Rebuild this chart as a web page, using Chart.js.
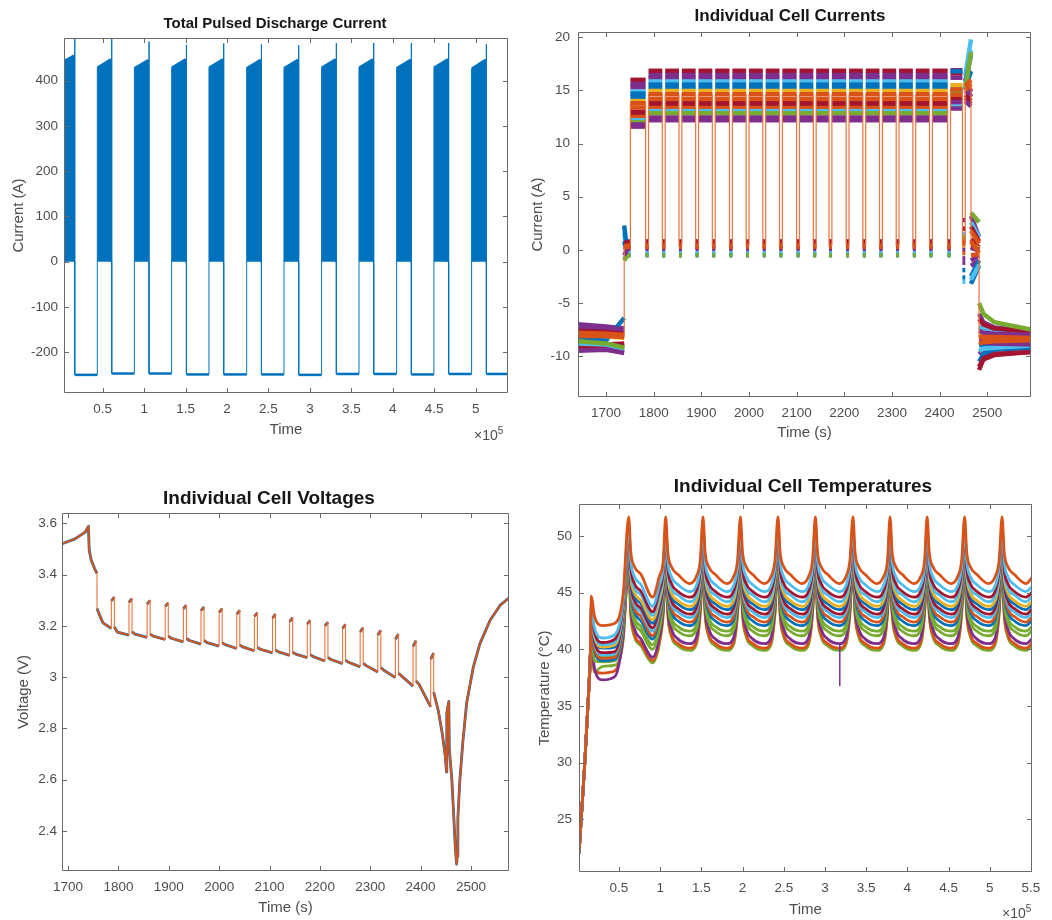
<!DOCTYPE html>
<html>
<head>
<meta charset="utf-8">
<title>Pulsed discharge test</title>
<script src="https://cdn.jsdelivr.net/npm/chart.js@4.4.0/dist/chart.umd.min.js"></script>
<style>
  html, body { margin: 0; padding: 0; background: #fff; }
  #page { position: relative; width: 1052px; height: 920px; overflow: hidden;
          font-family: 'Liberation Sans', Arial, Helvetica, sans-serif; }
  canvas { position: absolute; }
  .ttl { position: absolute; font-weight: bold; color: #161616; white-space: nowrap;
         transform: translate(-50%, -50%); line-height: 1; }
  .exp { position: absolute; color: #4d4d4d; font-size: 14px; white-space: nowrap; line-height: 1; }
  .exp span { position: relative; top: -6px; font-size: 10px; }
</style>
</head>
<body>
<div id="page">
  <canvas id="c1" width="526" height="445" style="left:0;top:0"></canvas>
  <canvas id="c2" width="532" height="445" style="left:520px;top:0"></canvas>
  <canvas id="c3" width="526" height="450" style="left:0;top:470px"></canvas>
  <canvas id="c4" width="532" height="450" style="left:520px;top:470px"></canvas>

  <div class="ttl" style="left:275px;top:22px;font-size:15px">Total Pulsed Discharge Current</div>
  <div class="ttl" style="left:790px;top:15px;font-size:17px">Individual Cell Currents</div>
  <div class="ttl" style="left:269px;top:497px;font-size:19px">Individual Cell Voltages</div>
  <div class="ttl" style="left:803px;top:485px;font-size:19px">Individual Cell Temperatures</div>
  <div class="exp" style="left:474px;top:428px">&times;10<span>5</span></div>
  <div class="exp" style="left:1002px;top:906px">&times;10<span>5</span></div>
</div>

<script>
/* ---------- panel 1: total pulsed discharge current (time in 1e5 units) ---------- */
var xTicks1 = [0.5, 1, 1.5, 2, 2.5, 3, 3.5, 4, 4.5, 5];
var yTicks1 = [-200, -100, 0, 100, 200, 300, 400];
var blockStart1 = [0.013, 0.435, 0.882, 1.332, 1.782, 2.237, 2.687, 3.141, 3.592, 4.046, 4.496, 4.951];
var blockEnd1   = [0.154, 0.600, 1.050, 1.501, 1.951, 2.406, 2.856, 3.310, 3.761, 4.215, 4.665, 5.120];
var spikeTime1  = [0.163, 0.609, 1.059, 1.510, 1.960, 2.415, 2.865, 3.319, 3.770, 4.224, 4.674, 5.129];
var startTop1   = [441, 428, 427, 428, 428, 427, 427, 428, 428, 427, 428, 426];
var endTop1     = [455, 447, 445, 447, 447, 446, 446, 447, 447, 446, 447, 446];
var spikeTop1   = [520, 520, 486, 479, 482, 480, 478, 483, 483, 483, 483, 480];
var charge1     = [-250, -247, -247, -249, -249, -249, -250, -248, -248, -249, -248, -248];
var traceEnd1 = 5.39;

/* ---------- panel 2: individual cell currents ---------- */
var xTicks2 = [1700, 1800, 1900, 2000, 2100, 2200, 2300, 2400, 2500];
var yTicks2 = [-10, -5, 0, 5, 10, 15, 20];
var preT2 = [1641, 1700, 1738];
var kickT2 = 1745;
var firstOn2 = 1751;
var restStart2 = [1783, 1818, 1853, 1888, 1923, 1959, 1994, 2029, 2064, 2100, 2135, 2168, 2204, 2239, 2274, 2309, 2344, 2379, 2417, 2448, 2466];
var restEnd2   = [1789, 1824, 1859, 1894, 1929, 1965, 2000, 2035, 2070, 2106, 2141, 2174, 2210, 2245, 2280, 2315, 2350, 2385, 2423, 2454];
var dropT2 = 2483;
var postT2 = [2483, 2492, 2515, 2592];
// cells in plotting order (the last one ends up on top, like the original figure)
var colors2 = ['#A2142F', '#7E2F8E', '#7E2F8E', '#4DBEEE', '#0072BD', '#0072BD', '#EDB120', '#A2142F',
               '#A2142F', '#D95319', '#4DBEEE', '#77AC30', '#7E2F8E', '#7E2F8E', '#D95319', '#D95319'];
var pre0  = [-8.9, -7.0, -9.3, -8.7, -8.5, -8.2, -8.0, -7.5, -9.1, -7.9, -8.8, -8.6, -7.2, -9.5, -8.1, -7.8];
var pre1  = [-8.9, -7.2, -9.3, -8.8, -8.5, -8.1, -8.1, -7.6, -9.0, -8.0, -8.9, -8.8, -7.3, -9.4, -8.1, -7.9];
var pre2  = [-8.8, -7.4, -9.5, -9.2, -6.4, -7.9, -8.3, -7.8, -8.9, -8.2, -9.3, -9.2, -7.5, -9.7, -8.2, -8.0];
var kick2 = [0.6, 0.4, 0.3, 1.6, 2.3, 0.8, 0.2, 0.7, 0.5, 0.3, -0.9, -1.0, 0.0, -0.5, 0.2, 0.4];
var rest2 = [0.8, 0.5, 0.3, -0.3, -0.5, -0.4, 0.1, 0.7, 0.4, 0.2, -0.3, -0.5, 0.2, 0.1, 0.3, 0.4];
var first2 = [16.0, 15.6, 15.3, 14.9, 14.7, 14.4, 14.0, 13.0, 12.7, 12.5, 12.2, 12.0, 11.8, 11.6, 13.4, 13.8];
var main2  = [16.85, 16.45, 16.15, 15.85, 15.55, 15.25, 14.95, 13.95, 13.65, 13.35, 13.05, 12.85, 12.45, 12.2, 14.2, 14.65];
var late2  = [16.6, 16.9, 16.2, 15.4, 16.8, 15.0, 15.5, 14.1, 14.4, 14.8, 13.5, 14.9, 13.9, 13.3, 14.6, 15.1];
var finA2  = [16.2, 16.5, 15.8, 16.4, 15.8, 15.2, 15.3, 14.3, 14.6, 15.0, 15.0, 15.1, 14.7, 14.0, 15.0, 15.4];
var finB2  = [14.9, 16.9, 14.4, 19.8, 18.3, 16.8, 15.8, 13.7, 14.0, 15.1, 18.8, 18.6, 15.1, 13.5, 15.6, 16.0];
var lr1_2  = [0.5, 2.8, -0.8, 1.5, -2.6, -1.9, 0.3, 0.8, 2.0, 1.0, -3.0, 1.2, -1.2, 0.0, -0.3, 0.6];
var lr2a_2 = [1.0, 3.2, -1.5, 2.6, -3.2, -2.5, 0.5, 0.3, 2.2, 1.8, -2.8, 3.5, -1.0, 0.2, -0.5, 0.8];
var lr2b_2 = [0.2, 1.2, -1.0, 1.2, -1.5, -1.0, 0.1, 0.0, 0.8, 0.6, -1.4, 2.6, -0.5, -0.1, -0.4, -0.3];
var post0 = [-11.3, -6.0, -9.8, -7.2, -10.5, -9.0, -8.0, -11.0, -6.5, -8.4, -9.5, -5.0, -7.6, -8.6, -8.8, -8.2];
var post1 = [-10.3, -6.8, -9.4, -7.4, -9.8, -8.9, -8.0, -10.2, -7.0, -8.3, -9.3, -6.0, -7.8, -8.7, -8.7, -8.2];
var post2 = [-9.9, -7.3, -9.2, -7.7, -9.4, -8.8, -8.1, -9.8, -7.4, -8.3, -9.2, -6.8, -7.9, -8.8, -8.6, -8.2];
var post3 = [-9.6, -7.6, -9.1, -7.9, -9.2, -8.8, -8.2, -9.6, -7.7, -8.3, -9.0, -7.5, -8.0, -8.9, -8.5, -8.3];

/* ---------- panel 3: individual cell voltages ---------- */
var xTicks3 = [1700, 1800, 1900, 2000, 2100, 2200, 2300, 2400, 2500];
var yTicks3 = [2.4, 2.6, 2.8, 3, 3.2, 3.4, 3.6];
var lead3T = [1688, 1714, 1734, 1740.5, 1742, 1746, 1752.7, 1757.4, 1757.6, 1762.6, 1769.3];
var lead3V = [3.521, 3.54, 3.566, 3.589, 3.496, 3.457, 3.424, 3.405, 3.268, 3.242, 3.212];
var restStart3 = [1786, 1821, 1857, 1893, 1929, 1964, 2000, 2035, 2070, 2106, 2140, 2175, 2210, 2245, 2280, 2315, 2350, 2385, 2420];
var restEnd3   = [1792, 1827, 1863, 1899, 1935, 1970, 2006, 2041, 2076, 2112, 2146, 2181, 2216, 2251, 2286, 2321, 2356, 2391, 2426];
var trough3 = [3.19, 3.164, 3.155, 3.147, 3.138, 3.129, 3.121, 3.112, 3.103, 3.095, 3.085, 3.076, 3.063, 3.053, 3.04, 3.02, 2.998, 2.965, 2.884];
var rise3   = [3.298, 3.292, 3.285, 3.276, 3.267, 3.26, 3.253, 3.246, 3.237, 3.231, 3.217, 3.208, 3.2, 3.19, 3.177, 3.165, 3.148, 3.12, 3.07];
var top3    = [3.313, 3.307, 3.3, 3.29, 3.281, 3.274, 3.268, 3.261, 3.251, 3.246, 3.232, 3.222, 3.215, 3.206, 3.193, 3.183, 3.168, 3.142, 3.094];
var drop3   = [3.196, 3.177, 3.168, 3.16, 3.151, 3.144, 3.134, 3.125, 3.116, 3.105, 3.097, 3.088, 3.077, 3.066, 3.054, 3.037, 3.015, 2.985, 2.941];
var decayT3 = [1798, 1833, 1869, 1905, 1941, 1976, 2012, 2047, 2082, 2118, 2152, 2187, 2222, 2257, 2292, 2327, 2362, 2397];
var decay3  = [3.176, 3.168, 3.16, 3.152, 3.143, 3.135, 3.127, 3.118, 3.109, 3.099, 3.09, 3.08, 3.069, 3.058, 3.045, 3.027, 3.005, 2.972];
var tail3T = [2435, 2443, 2449, 2451.5, 2452, 2456, 2457, 2462, 2466, 2469, 2471.5, 2472.5, 2474, 2478, 2484, 2491.5, 2504.7, 2518, 2538, 2558, 2576];
var tail3V = [2.87, 2.78, 2.69, 2.63, 2.86, 2.905, 2.72, 2.6, 2.45, 2.33, 2.27, 2.3, 2.45, 2.6, 2.75, 2.9, 3.04, 3.132, 3.222, 3.281, 3.31];

/* ---------- panel 4: individual cell temperatures (time in 1e5 units) ---------- */
var xTicks4 = [0.5, 1, 1.5, 2, 2.5, 3, 3.5, 4, 4.5, 5, 5.5];
var yTicks4 = [25, 30, 35, 40, 45, 50];
var rampT4 = [0.015, 0.043, 0.084, 0.124, 0.152];
var rampV4 = [22, 25.2, 29.9, 35.2, 39.4];
var earlyT4 = [0.165, 0.20, 0.30, 0.45, 0.55];
// one row per cycle: peak, fall, fall, fall, trough, rise, rise
var cycleT4 = [
  [0.618, 0.643, 0.688, 0.768, 0.908, 0.988, 1.038],
  [1.067, 1.092, 1.137, 1.217, 1.357, 1.437, 1.487],
  [1.520, 1.545, 1.590, 1.670, 1.810, 1.890, 1.940],
  [1.974, 1.999, 2.044, 2.124, 2.264, 2.344, 2.394],
  [2.430, 2.455, 2.500, 2.580, 2.720, 2.800, 2.850],
  [2.884, 2.909, 2.954, 3.034, 3.174, 3.254, 3.304],
  [3.340, 3.365, 3.410, 3.490, 3.630, 3.710, 3.760],
  [3.790, 3.815, 3.860, 3.940, 4.080, 4.160, 4.210],
  [4.240, 4.265, 4.310, 4.390, 4.530, 4.610, 4.660],
  [4.695, 4.720, 4.765, 4.845, 4.985, 5.065, 5.115],
  [5.150, 5.175, 5.220, 5.300, 5.440, 5.520]
];
var colors4 = ['#D95319', '#4DBEEE', '#A2142F', '#4DBEEE', '#EDB120', '#0072BD', '#A2142F', '#4DBEEE',
               '#D95319', '#0072BD', '#77AC30', '#77AC30', '#7E2F8E', '#D95319', '#77AC30'];
// per cell: peak, f1, f2, f3, trough, r1, r2, first-cycle trough, early peak, t=0.20, 0.30, 0.45, 0.55
var cells4 = [
  [51.7, 48.6, 47.3, 46.6, 45.8, 46.4, 47.9, 44.6, 44.7, 43.0, 42.1, 42.3, 44.8],
  [50.9, 47.8, 46.4, 45.7, 45.1, 45.6, 47.3, 43.8, 44.2, 42.0, 41.0, 41.3, 44.2],
  [50.5, 47.2, 45.8, 45.1, 44.6, 45.1, 46.9, 43.3, 43.9, 41.6, 40.6, 40.9, 43.9],
  [50.3, 46.9, 45.4, 44.8, 44.2, 44.7, 46.6, 43.0, 43.7, 41.4, 40.4, 40.6, 43.7],
  [50.1, 46.5, 45.0, 44.3, 43.8, 44.3, 46.3, 42.6, 43.5, 41.2, 40.2, 40.4, 43.5],
  [50.2, 46.3, 44.7, 44.0, 43.5, 44.0, 46.1, 42.3, 43.4, 41.0, 40.1, 40.2, 43.4],
  [49.7, 45.9, 44.3, 43.6, 43.1, 43.6, 45.8, 41.9, 43.1, 40.7, 39.7, 39.8, 43.1],
  [49.9, 45.7, 44.0, 43.3, 42.8, 43.3, 45.6, 41.6, 42.9, 40.5, 39.5, 39.6, 42.9],
  [49.3, 45.3, 43.6, 42.9, 42.4, 42.9, 45.2, 41.2, 42.6, 40.1, 39.2, 39.3, 42.7],
  [49.6, 45.1, 43.3, 42.5, 42.1, 42.6, 45.0, 40.9, 42.5, 39.9, 39.0, 39.1, 42.5],
  [48.9, 44.6, 42.8, 42.0, 41.6, 42.1, 44.6, 40.4, 42.1, 39.4, 39.3, 39.4, 42.2],
  [48.6, 44.3, 42.4, 41.6, 41.2, 41.7, 44.3, 40.0, 41.9, 39.0, 38.9, 39.0, 41.9],
  [48.1, 43.7, 41.8, 40.9, 40.5, 41.0, 43.8, 39.3, 41.5, 38.4, 37.3, 37.6, 41.3],
  [47.7, 43.3, 41.3, 40.5, 40.1, 40.6, 43.4, 39.0, 41.2, 38.1, 37.9, 38.1, 41.0],
  [47.6, 43.1, 41.1, 40.3, 39.9, 40.4, 43.2, 38.8, 41.0, 38.0, 38.5, 38.6, 40.8]
];
var dipX4 = [3.18, 3.18];
var dipY4 = [40.5, 36.8];

/* ---------- shared styling ---------- */
var FONT = "'Liberation Sans', Arial, Helvetica, sans-serif";
var INK = '#4d4d4d';
var FRAME = '#6a6a6a';
var TICK_LEN = 4.5;
var BLUE = '#0072BD';
var CLEAR = 'rgba(0,0,0,0)';

var matlabFrame = {
  id: 'matlabFrame',
  afterDraw: function (chart) {
    var a = chart.chartArea, ctx = chart.ctx, x = chart.scales.x, y = chart.scales.y;
    var L = Math.round(a.left) + 0.5, R = Math.round(a.right) - 0.5;
    var T = Math.round(a.top) + 0.5, B = Math.round(a.bottom) - 0.5;
    ctx.save();
    ctx.strokeStyle = FRAME;
    ctx.lineWidth = 1;
    ctx.beginPath();
    ctx.rect(L, T, R - L, B - T);
    x.ticks.forEach(function (t) {
      var px = Math.round(x.getPixelForValue(t.value)) + 0.5;
      ctx.moveTo(px, B); ctx.lineTo(px, B - TICK_LEN);
      ctx.moveTo(px, T); ctx.lineTo(px, T + TICK_LEN);
    });
    y.ticks.forEach(function (t) {
      var py = Math.round(y.getPixelForValue(t.value)) + 0.5;
      ctx.moveTo(L, py); ctx.lineTo(L + TICK_LEN, py);
      ctx.moveTo(R, py); ctx.lineTo(R - TICK_LEN, py);
    });
    ctx.stroke();
    ctx.restore();
  }
};

function axis(o) {
  return {
    type: 'linear',
    min: o.min,
    max: o.max,
    grid: { display: false, drawTicks: false },
    border: { display: false },
    afterBuildTicks: function (s) { s.ticks = o.ticks.map(function (v) { return { value: v }; }); },
    afterFit: function (s) { if (s.isHorizontal()) s.height = o.size; else s.width = o.size; },
    ticks: {
      color: INK, padding: o.tickPad, autoSkip: false, maxRotation: 0,
      font: { family: FONT, size: 13.5 },
      callback: function (v) { return String(v); }
    },
    title: { display: true, text: o.title, color: INK, font: { family: FONT, size: 15 }, padding: o.titlePad }
  };
}

// Chart.js paints dataset 0 last (on top), so callers pass top-most series first
function makeChart(id, datasets, xAx, yAx, pad) {
  return new Chart(document.getElementById(id), {
    type: 'line',
    data: { datasets: datasets },
    options: {
      responsive: false,
      animation: false,
      devicePixelRatio: 1,
      layout: { padding: pad },
      plugins: { legend: { display: false }, tooltip: { enabled: false }, title: { display: false } },
      elements: { point: { radius: 0 }, line: { borderCapStyle: 'butt', borderJoinStyle: 'round' } },
      scales: { x: xAx, y: yAx }
    },
    plugins: [matlabFrame]
  });
}

function dx(ctx) { return Math.abs(ctx.p0.parsed.x - ctx.p1.parsed.x); }

/* ---------- build panel 1 ---------- */
var blocks1 = [];
var trace1 = [];
blockStart1.forEach(function (s, i) {
  blocks1.push({ x: s, y: 0 }, { x: s, y: startTop1[i] }, { x: blockEnd1[i], y: endTop1[i] },
               { x: blockEnd1[i], y: 0 }, { x: blockEnd1[i], y: null });
  if (i > 0) trace1.push({ x: s, y: charge1[i - 1] });
  trace1.push({ x: s, y: 0 }, { x: s, y: startTop1[i] }, { x: blockEnd1[i], y: endTop1[i] },
              { x: blockEnd1[i], y: 0 }, { x: spikeTime1[i], y: 0 },
              { x: spikeTime1[i], y: spikeTop1[i] }, { x: spikeTime1[i], y: charge1[i] });
});
trace1.push({ x: traceEnd1, y: charge1[charge1.length - 1] });

makeChart('c1', [
  {
    data: trace1,
    borderColor: BLUE,
    borderWidth: 2,
    fill: false,
    segment: { borderWidth: function (ctx) { return dx(ctx) < 1e-6 ? 1 : 2.5; } },
    clip: 0
  },
  { data: blocks1, borderWidth: 0, borderColor: CLEAR, backgroundColor: BLUE, fill: 'origin', spanGaps: false, clip: 0 }
],
  axis({ min: 0.033, max: 5.39, ticks: xTicks1, size: 52, tickPad: 8, title: 'Time', titlePad: { bottom: 6 } }),
  axis({ min: -290, max: 494, ticks: yTicks1, size: 64, tickPad: 6, title: 'Current (A)', titlePad: { top: 10 } }),
  { top: 38, right: 18, left: 0, bottom: 0 });

/* ---------- build panel 2 ---------- */
function cellTrace2(c) {
  var p = [
    { x: preT2[0], y: pre0[c] }, { x: preT2[1], y: pre1[c] }, { x: preT2[2], y: pre2[c] },
    { x: preT2[2], y: kick2[c] }, { x: kickT2, y: rest2[c] }, { x: firstOn2, y: rest2[c] }
  ];
  var on = firstOn2;
  restStart2.forEach(function (rs, k) {
    var a, b, ra, rb;
    if (k === 0) { a = b = first2[c]; }
    else if (k <= 18) { a = b = main2[c]; }
    else if (k === 19) { a = b = late2[c]; }
    else { a = finA2[c]; b = finB2[c]; }
    if (k <= 18) { ra = rb = rest2[c]; }
    else if (k === 19) { ra = rb = lr1_2[c]; }
    else { ra = lr2a_2[c]; rb = lr2b_2[c]; }
    var off = k < restEnd2.length ? restEnd2[k] : dropT2;
    p.push({ x: on, y: a }, { x: rs, y: b }, { x: rs, y: ra }, { x: off, y: rb });
    on = off;
  });
  p.push({ x: postT2[0], y: post0[c] }, { x: postT2[1], y: post1[c] },
         { x: postT2[2], y: post2[c] }, { x: postT2[3], y: post3[c] });
  return p;
}

var last2 = colors2.length - 1;
var sets2 = colors2.map(function (col, c) {
  return {
    data: cellTrace2(c),
    borderColor: col,
    borderWidth: 4.5,
    segment: {
      borderWidth: function (ctx) { return dx(ctx) < 1e-6 ? 1.2 : 4.5; },
      borderColor: function (ctx) { return dx(ctx) < 1e-6 ? (c === last2 ? '#E8743F' : CLEAR) : col; }
    },
    clip: 0
  };
}).reverse();

makeChart('c2', sets2,
  axis({ min: 1641, max: 2592, ticks: xTicks2, size: 48, tickPad: 8, title: 'Time (s)', titlePad: { bottom: 3 } }),
  axis({ min: -13.84, max: 20.5, ticks: yTicks2, size: 58, tickPad: 8, title: 'Current (A)', titlePad: { top: 9 } }),
  { top: 32, right: 21, left: 0, bottom: 0 });

/* ---------- build panel 3 ---------- */
var volt3 = [];
lead3T.forEach(function (t, i) { volt3.push({ x: t, y: lead3V[i] }); });
restStart3.forEach(function (rs, k) {
  volt3.push({ x: rs, y: trough3[k] }, { x: rs, y: rise3[k] },
             { x: restEnd3[k], y: top3[k] }, { x: restEnd3[k], y: drop3[k] });
  if (k < decayT3.length) volt3.push({ x: decayT3[k], y: decay3[k] });
});
tail3T.forEach(function (t, i) { volt3.push({ x: t, y: tail3V[i] }); });

makeChart('c3', [
  {
    data: volt3, borderColor: '#D95319', borderWidth: 2, clip: 0,
    segment: {
      borderWidth: function (ctx) { return dx(ctx) < 0.3 ? 1.1 : 2; },
      borderColor: function (ctx) { return dx(ctx) < 0.3 ? '#E8743F' : '#D95319'; }
    }
  },
  {
    data: volt3, borderColor: '#0072BD', borderWidth: 2.8, clip: 0,
    segment: { borderColor: function (ctx) { return dx(ctx) < 0.3 ? CLEAR : '#0072BD'; } }
  }
],
  axis({ min: 1688, max: 2575.5, ticks: xTicks3, size: 49, tickPad: 8, title: 'Time (s)', titlePad: { bottom: 3 } }),
  axis({ min: 2.243, max: 3.641, ticks: yTicks3, size: 62, tickPad: 5, title: 'Voltage (V)', titlePad: { top: 15 } }),
  { top: 43, right: 17, left: 0, bottom: 0 });

/* ---------- build panel 4 ---------- */
function cellTrace4(c) {
  var row = cells4[c];
  var p = [];
  rampT4.forEach(function (t, i) { p.push({ x: t, y: rampV4[i] }); });
  earlyT4.forEach(function (t, i) { p.push({ x: t, y: row[8 + i] }); });
  cycleT4.forEach(function (times, k) {
    times.forEach(function (t, j) {
      var slot = (k === 0 && j === 4) ? 7 : j;
      p.push({ x: t, y: row[slot] });
    });
  });
  return p;
}

var sets4 = [{
  data: dipX4.map(function (x, i) { return { x: x, y: dipY4[i] }; }),
  borderColor: '#7E2F8E', borderWidth: 1.5, clip: 0
}];
cells4.forEach(function (row, c) {
  sets4.push({
    data: cellTrace4(c),
    borderColor: colors4[c],
    borderWidth: 2.8,
    cubicInterpolationMode: 'monotone',
    clip: 0
  });
});

makeChart('c4', sets4,
  axis({ min: 0.0146, max: 5.513, ticks: xTicks4, size: 48, tickPad: 8, title: 'Time', titlePad: { bottom: 1 } }),
  axis({ min: 20.34, max: 52.83, ticks: yTicks4, size: 59, tickPad: 7, title: 'Temperature (\u00B0C)', titlePad: { top: 16 } }),
  { top: 34, right: 20, left: 0, bottom: 0 });
</script>
</body>
</html>
